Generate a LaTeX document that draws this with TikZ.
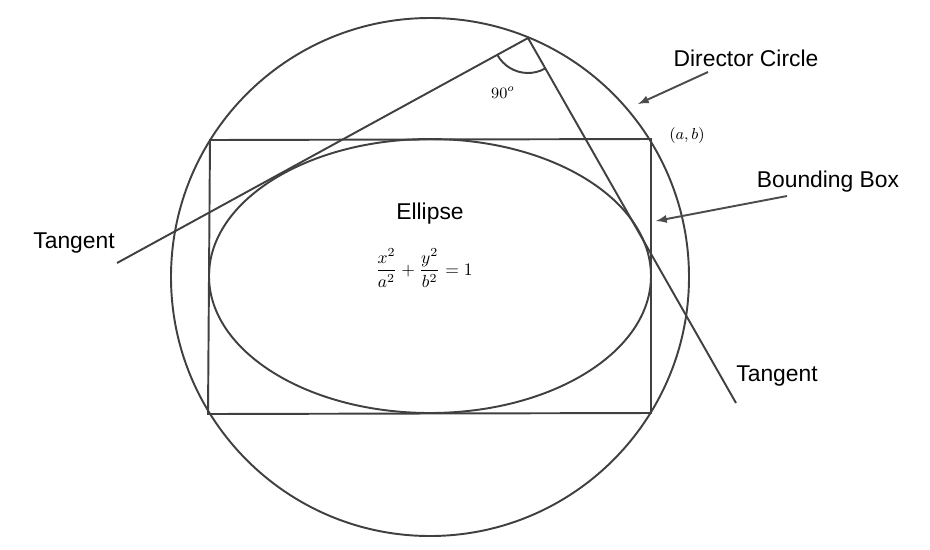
\documentclass[tikz,border=0pt]{standalone}
\usepackage{amsmath}
\usepackage{fontspec}
\setsansfont{Liberation Sans}
\begin{document}
\begin{tikzpicture}[x=0.02cm,y=-0.02cm,
  ln/.style={draw=black!75,line width=1.1pt},
  lbl/.style={font=\sffamily\fontsize{13}{15}\selectfont,text=black},
  mth/.style={font=\fontsize{9}{11}\selectfont,text=black},
  arr/.style={draw=black!70,line width=1.1pt,-latex}]
\useasboundingbox (0,0) rectangle (930,549);
\coordinate (O) at (430,277);
\draw[ln] (O) circle[radius=259*0.02cm];
\draw[ln] (430,276) ellipse[x radius=221*0.02cm,y radius=137*0.02cm];
\coordinate (b1) at (210,140); \coordinate (b2) at (651,139);
\coordinate (b3) at (651,413); \coordinate (b4) at (208,414);
\draw[ln] (b1)--(b2)--(b3)--(b4)--cycle;
\coordinate (P) at (528,38);
\coordinate (t1) at (117,263);
\coordinate (t2) at (736,403);
\draw[ln] (t1)--(P)--(t2);
\draw[ln] ([shift={(208.7:0.7cm)}]P) arc[start angle=208.7,end angle=299.7,radius=0.7cm];
\node[mth] (ang) at (503,93) {$90^o$};
\node[mth] (ab) at (687,136) {$(a,b)$};
\node[lbl] (el) at (430,214) {Ellipse};
\node[font=\fontsize{10}{12}\selectfont] (eq) at (424,268) {$\dfrac{x^2}{a^2}+\dfrac{y^2}{b^2}=1$};
\node[lbl] (tg1) at (74,243) {Tangent};
\node[lbl] (tg2) at (777,376) {Tangent};
\node[lbl] (dc) at (746,58) {Director Circle};
\node[lbl] (bb) at (828,182) {Bounding Box};
\coordinate (dca) at (708,72); \coordinate (dcb) at (638,104);
\coordinate (bba) at (787,196); \coordinate (bbb) at (656,221);
\draw[arr] (dca)--(dcb);
\draw[arr] (bba)--(bbb);
\end{tikzpicture}
\end{document}
